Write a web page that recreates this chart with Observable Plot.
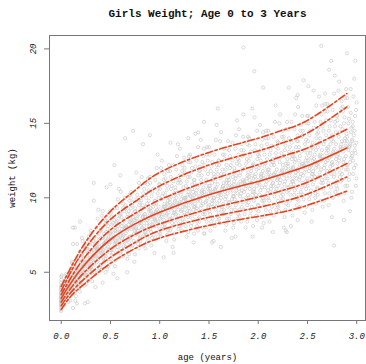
<!DOCTYPE html>
<html><head><meta charset="utf-8">
<script src="https://cdn.jsdelivr.net/npm/d3@7"></script>
<script src="https://cdn.jsdelivr.net/npm/@observablehq/plot@0.6"></script>
<style>body{margin:0;background:#fff}</style>
</head><body><div id="chart"></div>
<script>
const title = "Girls Weight; Age 0 to 3 Years";
const xLabel = "age (years)";
const yLabel = "weight (kg)";
const xTicks = [0, 0.5, 1, 1.5, 2, 2.5, 3];
const yTicks = [5, 10, 15, 20];

// centile curves (kg) at these ages
const curveAges = [0, 0.1, 0.25, 0.5, 0.75, 1.0, 1.5, 2.0, 2.25, 2.5, 2.9];
const c03 = [2.5, 3.4, 4.3, 5.6, 6.6, 7.3, 8.15, 8.75, 9.05, 9.5, 10.45];
const c10 = [2.75, 3.65, 4.65, 6.0, 7.0, 7.8, 8.69, 9.35, 9.75, 10.25, 11.4];
const c25 = [3.0, 3.95, 5.1, 6.55, 7.55, 8.25, 9.25, 10.05, 10.5, 11.05, 12.3];
const c50 = [3.25, 4.3, 5.6, 7.2, 8.25, 9.03, 10.2, 11.1, 11.6, 12.15, 13.35];
const c75 = [3.5, 4.65, 6.1, 7.85, 8.95, 9.86, 11.15, 12.23, 12.8, 13.35, 14.6];
const c90 = [3.75, 5.05, 6.65, 8.55, 9.75, 10.8, 12.2, 13.15, 13.7, 14.35, 16.1];
const c97 = [4.05, 5.35, 7.05, 9.1, 10.5, 11.7, 13.05, 14.0, 14.55, 15.2, 17.0];

// observations: weights measured at birth
const birthWeights = [2.4,2.5,2.6,2.7,2.8,2.8,2.9,2.9,3.0,3.0,3.0,3.1,3.1,3.1,3.2,3.2,3.2,3.3,3.3,3.3,3.4,3.4,3.4,3.5,3.5,3.6,3.6,3.7,3.8,3.9,4.0,4.1,4.3,4.5,4.7];
// observations grouped in 0.05-year age groups (two visit rounds);
// age within a group = group start + offset listed for that round
const groupWidth = 0.05;
const ageOffsetsA = [0.027,0.008,0.043,0.017,0.035,0.002,0.047,0.022,0.012,0.038,0.031,0.005];
const ageOffsetsB = [0.014,0.039,0.004,0.029,0.046,0.020,0.010,0.033,0.049,0.025,0.003,0.041];
const groupWeightsA = [
[2.8,3.1,3.2,3.3,3.5,3.6,3.7,3.8,4.0,4.2,4.4,4.8],
[4.0,4.1,4.3,4.4,4.7,4.9,5.2,3.0,3.3,3.6,3.7,3.9],
[5.4,5.7,3.1,3.7,3.9,4.1,4.3,4.4,4.6,4.7,4.9,5.1],
[4.5,4.6,4.8,5.0,5.2,5.4,5.7,6.0,6.9,3.7,4.0,4.3],
[6.0,6.2,6.6,7.1,4.1,4.5,4.8,5.0,5.1,5.3,5.5,5.7],
[4.6,5.0,5.2,5.4,5.6,5.8,6.0,6.3,6.6,6.9,7.4,4.2],
[6.1,6.4,6.6,6.9,7.3,7.8,4.0,4.8,5.2,5.5,5.7,5.9],
[9.2,4.9,5.3,5.7,6.0,6.2,6.4,6.6,6.9,7.2,7.6,8.0],
[6.5,6.8,7.0,7.3,7.6,8.0,8.5,9.1,5.2,5.7,6.0,6.3],
[8.1,8.5,9.1,5.2,5.7,6.1,6.5,6.7,7.0,7.2,7.4,7.7],
[6.3,6.6,6.9,7.2,7.4,7.7,8.0,8.3,8.7,9.3,4.9,5.9],
[8.1,8.4,8.8,9.3,10.6,5.8,6.3,6.7,7.0,7.2,7.5,7.8],
[6.1,6.6,7.0,7.3,7.5,7.7,8.0,8.3,8.7,9.1,9.6,10.4],
[7.9,8.1,8.4,8.7,9.1,9.5,10.2,5.9,6.5,7.0,7.3,7.6],
[9.7,10.4,5.7,6.6,7.1,7.4,7.8,8.0,8.3,8.5,8.9,9.3],
[7.8,8.0,8.3,8.6,8.9,9.3,9.7,10.2,11.7,6.6,7.1,7.5],
[9.5,10.0,10.6,11.4,6.8,7.4,7.7,8.0,8.3,8.5,8.8,9.1],
[7.3,7.7,8.1,8.3,8.6,8.9,9.2,9.6,10.0,10.5,11.3,6.6],
[8.9,9.3,9.6,10.1,10.6,11.4,6.3,7.3,7.7,8.1,8.4,8.7],
[12.9,7.2,7.7,8.1,8.4,8.6,8.9,9.2,9.6,10.0,10.6,11.2],
[8.9,9.1,9.4,9.9,10.3,10.9,11.6,12.5,7.4,7.9,8.3,8.6],
[10.8,11.3,12.2,7.1,7.8,8.2,8.6,8.9,9.2,9.5,9.8,10.2],
[8.3,8.6,9.0,9.3,9.5,9.9,10.3,10.8,11.4,12.2,6.7,7.8],
[10.3,10.7,11.2,11.9,13.6,7.6,8.1,8.6,8.9,9.2,9.5,9.8],
[7.8,8.4,8.8,9.1,9.4,9.7,10.0,10.4,11.0,11.5,12.2,13.3],
[9.7,10.0,10.4,10.8,11.4,12.0,12.8,7.4,8.1,8.7,9.1,9.4],
[12.0,12.9,7.0,8.1,8.6,9.1,9.4,9.7,10.1,10.4,10.9,11.4],
[9.3,9.6,9.9,10.3,10.7,11.2,11.8,12.5,14.3,7.8,8.4,8.9],
[11.5,12.1,12.8,13.9,8.0,8.7,9.1,9.5,9.8,10.1,10.5,10.9],
[8.4,8.9,9.4,9.7,10.0,10.4,10.8,11.2,11.9,12.5,13.4,7.6],
[10.4,10.8,11.3,11.8,12.4,13.4,7.1,8.4,8.9,9.4,9.8,10.1],
[14.9,8.1,8.7,9.2,9.6,10.0,10.3,10.7,11.1,11.6,12.2,12.9],
[10.2,10.4,10.8,11.3,11.9,12.5,13.3,14.4,8.3,8.9,9.4,9.8],
[12.2,12.9,13.8,7.8,8.6,9.2,9.7,10.1,10.4,10.8,11.2,11.6],
[9.2,9.7,10.1,10.5,10.8,11.2,11.7,12.2,12.8,13.7,7.3,8.6],
[11.5,12.0,12.6,13.3,15.2,8.3,8.9,9.5,9.9,10.3,10.7,11.1],
[8.4,9.2,9.7,10.1,10.5,10.8,11.2,11.7,12.2,12.8,13.6,14.6],
[10.8,11.1,11.5,12.0,12.6,13.2,14.1,8.0,8.9,9.5,10.0,10.4],
[13.1,14.0,7.4,8.8,9.4,10.0,10.4,10.8,11.2,11.5,12.0,12.5],
[10.2,10.6,11.0,11.4,11.9,12.3,12.9,13.6,15.4,8.5,9.2,9.8],
[12.5,13.1,13.9,14.9,8.7,9.5,10.0,10.5,10.9,11.2,11.6,12.0],
[9.2,9.8,10.3,10.7,11.1,11.5,11.9,12.3,12.9,13.6,14.5,8.3],
[11.5,11.9,12.4,12.9,13.5,14.5,7.7,9.1,9.8,10.3,10.8,11.2],
[16.2,8.8,9.5,10.1,10.6,11.0,11.3,11.7,12.2,12.7,13.4,14.1],
[11.2,11.5,11.9,12.4,13.0,13.7,14.5,15.6,9.1,9.8,10.4,10.8],
[13.5,14.1,15.1,8.7,9.6,10.2,10.7,11.1,11.5,11.8,12.3,12.8],
[10.2,10.7,11.1,11.5,11.9,12.3,12.8,13.4,14.0,15.1,8.1,9.5],
[12.6,13.1,13.8,14.6,16.7,9.2,9.9,10.5,10.9,11.3,11.7,12.1],
[9.4,10.2,10.7,11.2,11.6,11.9,12.3,12.8,13.4,14.1,14.9,16.1],
[11.9,12.3,12.7,13.2,13.9,14.5,15.5,9.0,9.9,10.6,11.1,11.5],
[14.5,15.5,8.4,9.9,10.5,11.1,11.6,12.0,12.3,12.7,13.2,13.8],
[11.4,11.8,12.2,12.6,13.2,13.7,14.3,15.1,17.2,9.6,10.3,10.9],
[14.0,14.7,15.6,16.8,9.8,10.7,11.2,11.7,12.1,12.5,12.9,13.4],
[10.3,11.0,11.6,12.0,12.4,12.8,13.3,13.8,14.5,15.2,16.3,9.4],
[12.9,13.4,13.9,14.5,15.2,16.3,8.7,10.3,11.0,11.6,12.1,12.5],
[18.2,10.0,10.8,11.4,11.9,12.4,12.8,13.3,13.8,14.4,15.1,15.9],
[12.7,13.1,13.6,14.1,14.8,15.5,16.5,17.8,10.2,11.1,11.7,12.3],
[15.4,16.1,17.3,9.8,10.8,11.6,12.2,12.6,13.1,13.5,14.0,14.6],
[11.6,12.2,12.7,13.2,13.6,14.1,14.7,15.3,16.1,17.3,9.1,10.8],
[14.5,15.1,15.9,16.8,19.2,10.4,11.3,12.0,12.5,13.0,13.5,13.9]
];
const groupWeightsB = [
[3.8,3.9,4.1,4.3,4.6,3.7,3.0,3.2,3.2,3.4,3.5,3.6],
[4.1,3.1,3.5,3.6,3.8,4.0,4.0,4.2,4.4,4.5,4.8,5.0],
[4.3,4.5,4.7,4.8,5.0,5.2,5.6,4.5,3.4,3.8,4.0,4.2],
[5.9,6.4,4.9,3.9,4.1,4.4,4.6,4.7,4.9,5.1,5.3,5.5],
[4.9,5.0,5.2,5.4,5.6,5.8,6.1,6.4,6.8,5.4,4.3,4.7],
[6.1,6.5,6.7,7.2,5.7,4.4,4.8,5.1,5.3,5.5,5.7,5.9],
[4.4,5.0,5.3,5.6,5.8,6.0,6.3,6.5,6.7,7.1,7.6,6.1],
[6.5,6.7,7.0,7.4,7.8,8.6,6.6,5.1,5.5,5.9,6.1,6.3],
[8.8,6.9,5.5,5.8,6.2,6.4,6.6,6.9,7.2,7.4,7.8,8.2],
[6.6,6.9,7.1,7.3,7.6,7.9,8.3,8.8,7.0,5.4,5.9,6.3],
[8.2,8.5,9.0,7.3,5.4,6.1,6.5,6.7,7.0,7.3,7.6,7.8],
[6.5,6.9,7.1,7.3,7.7,7.9,8.3,8.6,9.0,9.9,7.6,6.0],
[8.1,8.5,8.9,9.3,10.0,7.9,6.4,6.8,7.1,7.4,7.6,7.9],
[8.0,6.2,6.7,7.2,7.4,7.8,8.0,8.2,8.6,8.9,9.3,9.8],
[7.9,8.1,8.4,8.7,9.1,9.5,10.0,8.2,6.2,6.8,7.3,7.6],
[9.9,11.0,8.5,6.9,7.3,7.6,7.9,8.2,8.4,8.8,9.1,9.5],
[7.9,8.1,8.4,8.7,8.9,9.3,9.8,10.3,11.0,8.7,7.1,7.5],
[9.4,9.8,10.2,10.9,8.8,7.0,7.5,7.9,8.2,8.5,8.7,9.1],
[6.8,7.5,7.9,8.2,8.6,8.8,9.1,9.4,9.8,10.4,11.0,8.9],
[9.0,9.4,9.8,10.3,10.9,12.0,9.1,7.4,7.9,8.3,8.5,8.8],
[12.0,9.4,7.6,8.1,8.5,8.7,9.0,9.2,9.6,10.1,10.6,11.2],
[8.8,9.0,9.4,9.6,10.0,10.5,11.0,11.8,9.3,7.5,8.0,8.4],
[10.6,11.1,11.8,9.5,7.2,8.0,8.5,8.8,9.2,9.4,9.7,10.1],
[8.3,8.8,9.0,9.4,9.6,10.0,10.5,11.0,11.5,12.8,9.7,7.9],
[10.2,10.7,11.2,11.8,12.7,9.9,8.1,8.6,9.0,9.2,9.6,9.8],
[10.0,7.7,8.4,8.9,9.3,9.5,9.9,10.2,10.6,11.1,11.7,12.4],
[9.6,9.9,10.2,10.6,11.2,11.7,12.4,10.0,7.6,8.3,8.8,9.2],
[12.1,13.4,10.2,8.1,8.6,9.1,9.4,9.8,10.1,10.5,11.0,11.5],
[9.3,9.6,10.0,10.3,10.7,11.2,11.8,12.4,13.3,10.4,8.4,8.9],
[11.0,11.6,12.2,12.9,10.3,8.0,8.6,9.2,9.5,9.8,10.2,10.6],
[7.8,8.6,9.1,9.6,10.0,10.3,10.6,11.0,11.6,12.1,12.9,10.4],
[10.5,10.9,11.4,11.9,12.5,13.9,10.6,8.4,9.0,9.4,9.8,10.1],
[13.8,10.7,8.6,9.2,9.6,10.0,10.3,10.6,11.0,11.6,12.2,12.9],
[9.9,10.3,10.6,11.0,11.4,11.9,12.6,13.3,10.7,8.2,8.9,9.4],
[12.0,12.5,13.2,10.6,8.0,8.9,9.5,9.9,10.3,10.7,11.0,11.4],
[9.2,9.7,10.1,10.5,10.9,11.3,11.8,12.3,12.9,14.2,10.9,8.6],
[11.5,11.9,12.5,13.2,14.1,11.1,8.8,9.4,9.9,10.3,10.6,11.0],
[10.9,8.4,9.2,9.8,10.2,10.6,11.0,11.3,11.7,12.3,12.9,13.6],
[10.6,11.0,11.4,11.8,12.2,12.8,13.5,11.0,8.1,9.1,9.7,10.2],
[13.2,14.5,11.3,8.8,9.5,10.0,10.4,10.8,11.2,11.6,12.1,12.6],
[10.2,10.7,11.0,11.4,11.8,12.2,12.8,13.5,14.4,11.5,9.1,9.8],
[12.1,12.6,13.2,14.0,11.4,8.8,9.5,10.0,10.5,10.9,11.3,11.7],
[8.4,9.4,10.0,10.6,11.0,11.4,11.7,12.2,12.6,13.2,14.0,11.3],
[11.5,11.9,12.4,13.0,13.8,15.1,11.6,9.2,9.8,10.4,10.8,11.2],
[15.0,11.8,9.4,10.1,10.6,11.0,11.4,11.7,12.2,12.7,13.3,14.1],
[10.9,11.3,11.6,12.0,12.6,13.2,13.8,14.6,11.7,9.2,9.9,10.4],
[13.1,13.7,14.6,11.8,8.8,9.8,10.5,10.9,11.3,11.7,12.1,12.6],
[10.2,10.7,11.1,11.5,11.9,12.4,12.8,13.4,14.2,15.6,12.0,9.5],
[12.5,13.1,13.8,14.5,15.5,12.2,9.8,10.4,11.0,11.4,11.8,12.1],
[12.2,9.4,10.2,10.8,11.3,11.7,12.1,12.5,13.0,13.6,14.2,15.0],
[11.8,12.2,12.5,13.0,13.5,14.2,15.0,12.1,9.2,10.2,10.8,11.4],
[14.7,16.2,12.5,10.0,10.6,11.2,11.6,12.0,12.4,12.9,13.4,14.0],
[11.4,11.9,12.3,12.7,13.2,13.7,14.4,15.1,16.2,12.8,10.2,11.0],
[13.6,14.2,14.8,15.8,12.7,9.8,10.6,11.3,11.8,12.2,12.6,13.0],
[9.5,10.7,11.3,11.8,12.3,12.7,13.2,13.6,14.2,14.8,15.8,12.8],
[13.0,13.6,14.1,14.8,15.5,17.0,13.1,10.4,11.1,11.6,12.2,12.6],
[17.2,13.3,10.6,11.4,12.0,12.5,12.9,13.4,13.8,14.4,15.2,16.0],
[12.4,12.8,13.3,13.8,14.3,15.0,15.8,16.7,13.4,10.3,11.2,11.9],
[15.0,15.7,16.7,13.5,10.0,11.2,11.9,12.4,13.0,13.4,13.8,14.4],
[11.6,12.2,12.8,13.2,13.7,14.2,14.8,15.5,16.4,18.0,13.8,10.8]
];
// isolated observations [age, weight]
const outliers = [[0.12,2.6],[0.16,2.9],[0.24,2.9],[0.27,3.0],[0.12,6.9],[0.21,7.3],[0.12,8.0],[0.14,8.0],[0.19,8.4],[0.33,9.8],[0.46,10.7],[0.33,11.0],[0.5,10.9],[0.54,12.2],[0.6,11.5],[0.42,4.3],[0.45,5.0],[0.57,4.6],[0.67,5.0],[0.65,14.0],[0.73,14.5],[0.83,13.6],[0.9,14.2],[1.04,6.0],[1.14,6.3],[1.11,13.7],[1.29,14.0],[1.39,14.4],[1.45,15.1],[1.45,7.6],[1.53,7.0],[1.59,16.0],[1.62,6.7],[1.77,7.4],[1.85,15.6],[1.85,20.1],[1.94,16.0],[1.96,18.5],[2.04,8.0],[2.05,17.4],[2.26,8.0],[2.28,7.8],[2.29,7.7],[2.31,17.4],[2.4,8.5],[2.4,16.9],[2.46,17.9],[2.51,17.5],[2.64,20.2],[2.68,17.0],[2.72,18.6],[2.74,19.2],[2.77,6.8],[2.87,8.5],[2.9,19.7]];

const points = [];
birthWeights.forEach(w => points.push({age: 0, weight: w}));
groupWeightsA.forEach((ws, i) => ws.forEach((w, j) => points.push({age: i * groupWidth + ageOffsetsA[j], weight: w})));
groupWeightsB.forEach((ws, i) => ws.forEach((w, j) => points.push({age: i * groupWidth + ageOffsetsB[j], weight: w})));
outliers.forEach(([a, w]) => points.push({age: a, weight: w}));

const dashed = "7,2.5,2.5,2.5";
const centiles = [
  {values: c03, dash: dashed}, {values: c10, dash: dashed}, {values: c25, dash: dashed},
  {values: c50, dash: null},
  {values: c75, dash: dashed}, {values: c90, dash: dashed}, {values: c97, dash: dashed}
];

const mono = "'Liberation Mono', 'DejaVu Sans Mono', monospace";
const red = "#e8431c";

const chart = Plot.plot({
  width: 366, height: 364,
  marginLeft: 49, marginRight: 1, marginTop: 35, marginBottom: 44,
  x: {domain: [-0.119, 3.089]},
  y: {domain: [1.76, 20.9]},
  style: {background: "white", fontFamily: mono, overflow: "visible"},
  marks: [
    Plot.dot(points, {x: "age", y: "weight", r: 1.6, stroke: "#cccccc", strokeWidth: 0.75, fill: "none"}),
    ...centiles.map(c => Plot.line(curveAges.map((a, i) => ({age: a, weight: c.values[i]})),
      {x: "age", y: "weight", stroke: red, strokeWidth: 1.6, strokeDasharray: c.dash, curve: "natural"})),
    Plot.frame({stroke: "#777"}),
    Plot.axisX({ticks: xTicks, tickSize: 4, tickFormat: () => "", label: null, stroke: "#777"}),
    Plot.axisY({ticks: yTicks, tickSize: 5, tickFormat: () => "", label: null, stroke: "#777"}),
    Plot.text(xTicks, {x: d => d, text: d => d.toFixed(1), frameAnchor: "bottom", dy: 16, lineAnchor: "middle", textAnchor: "middle", fontStyle: "italic", fontSize: 9, fill: "#222"}),
    Plot.text(yTicks, {y: d => d, text: d => String(d), frameAnchor: "left", dx: -16, rotate: -90, lineAnchor: "middle", textAnchor: "middle", fontStyle: "italic", fontSize: 9, fill: "#222"}),
    Plot.text([title], {text: d => d, frameAnchor: "top", dy: -22, lineAnchor: "middle", fontWeight: "bold", fontSize: 11, fill: "#111"}),
    Plot.text([xLabel], {text: d => d, frameAnchor: "bottom", dy: 37, lineAnchor: "middle", fontSize: 9, fill: "#111"}),
    Plot.text([yLabel], {text: d => d, frameAnchor: "left", dx: -37, rotate: -90, lineAnchor: "middle", textAnchor: "middle", fontSize: 9, fill: "#111"})
  ]
});
document.getElementById("chart").appendChild(chart);
</script>
</body></html>
